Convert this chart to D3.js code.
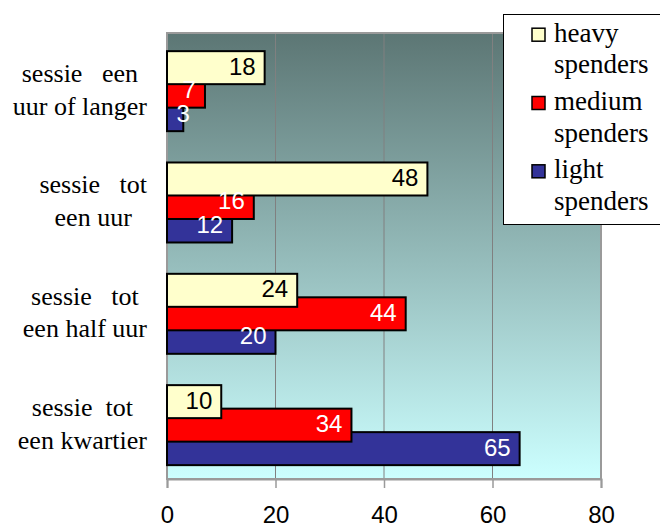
<!DOCTYPE html>
<html><head><meta charset="utf-8">
<script src="https://cdn.jsdelivr.net/npm/d3@7"></script>
</head><body style="margin:0;background:#fff">
<script>
// ---- data ----
const categories = [
  ["sessie   een", "uur of langer"],
  ["sessie   tot", "een uur"],
  ["sessie   tot", "een half uur"],
  ["sessie  tot", "een kwartier"]
];
const seriesNames = [["heavy", "spenders"], ["medium", "spenders"], ["light", "spenders"]];
const heavy  = [18, 48, 24, 10];
const medium = [7, 16, 44, 34];
const light  = [3, 12, 20, 65];
const xTicks = [0, 20, 40, 60, 80];

const colors = ["#FFFFCC", "#FF0000", "#333399"];
const labelColors = ["#000", "#fff", "#fff"];
const series = [heavy, medium, light];
const SERIF = "Liberation Serif", SANS = "Liberation Sans";

const W = 660, H = 526;
const svg = d3.select("body").append("svg").attr("width", W).attr("height", H).style("display", "block");
const defs = svg.append("defs");
const grad = defs.append("linearGradient").attr("id", "bg").attr("x1", 0).attr("y1", 0).attr("x2", 0).attr("y2", 1);
grad.append("stop").attr("offset", "0%").attr("stop-color", "#5C7674");
grad.append("stop").attr("offset", "100%").attr("stop-color", "#CCFFFF");

const x = d3.scaleLinear().domain([0, 80]).range([167, 601]);
const plotTop = 33, plotBottom = 479;
const y = d3.scaleBand().domain(d3.range(categories.length)).range([36, 481.3]).padding(0);

// plot background
svg.append("rect").attr("x", x(0)).attr("y", plotTop).attr("width", x(80) - x(0)).attr("height", plotBottom - plotTop)
  .attr("fill", "url(#bg)");

// gridlines
svg.append("g").selectAll("line").data(xTicks.filter(d => d > 0 && d < 80)).join("line")
  .attr("x1", d => x(d)).attr("x2", d => x(d)).attr("y1", plotTop).attr("y2", plotBottom)
  .attr("stroke", "#808080").attr("stroke-width", 1);

// plot border
svg.append("rect").attr("x", x(0)).attr("y", plotTop).attr("width", x(80) - x(0)).attr("height", plotBottom - plotTop)
  .attr("fill", "none").attr("stroke", "#9a9a9a").attr("stroke-width", 2);

// x axis
const xAxis = d3.axisBottom(x).tickValues(xTicks).tickSize(9).tickPadding(12).tickFormat(d3.format("d"));
const ax = svg.append("g").attr("transform", `translate(0,${plotBottom})`).call(xAxis);
ax.attr("font-family", SANS).attr("font-size", 24);
ax.select(".domain").attr("stroke", "#9a9a9a").attr("stroke-width", 2);
ax.selectAll(".tick line").attr("stroke", "#9a9a9a").attr("stroke-width", 1.5);
ax.selectAll(".tick text").attr("fill", "#000").attr("dy", null).attr("y", 44);

// bars (light first, heavy on top)
const offsets = [-24, -0.5, 23];
const barH = 33;
const order = [2, 1, 0];
order.forEach(si => {
  const g = svg.append("g");
  g.selectAll("rect").data(series[si]).join("rect")
    .attr("x", x(0))
    .attr("y", (d, i) => y(i) + y.bandwidth() / 2 + offsets[si] - barH / 2)
    .attr("width", d => x(d) - x(0))
    .attr("height", barH)
    .attr("fill", colors[si]).attr("stroke", "#000").attr("stroke-width", 2);
});
// value labels
order.forEach(si => {
  const g = svg.append("g");
  g.selectAll("text").data(series[si]).join("text")
    .attr("font-family", SANS).attr("font-size", 24)
    .attr("fill", labelColors[si])
    .attr("y", (d, i) => y(i) + y.bandwidth() / 2 + offsets[si] + 7)
    .text(d => d)
    .each(function(d) {
      const w = this.getComputedTextLength();
      const end = x(d);
      const bw = end - x(0);
      if (w + 12 > bw) {
        d3.select(this).attr("text-anchor", "middle").attr("x", end);
      } else {
        d3.select(this).attr("text-anchor", "end").attr("x", end - 9);
      }
    });
});

// category labels: block right-aligned, lines centered in block
const catG = svg.append("g");
categories.forEach((lines, i) => {
  const cy = y(i) + y.bandwidth() / 2;
  const texts = lines.map((ln, k) => catG.append("text")
    .attr("font-family", SERIF).attr("font-size", 26).attr("xml:space", "preserve")
    .attr("fill", "#000").attr("text-anchor", "middle")
    .attr("y", cy + (k === 0 ? -9.5 : 23))
    .text(ln));
  const maxW = d3.max(texts, t => t.node().getComputedTextLength());
  texts.forEach(t => t.attr("x", 147 - maxW / 2));
});

// legend
const lg = svg.append("g");
lg.append("rect").attr("x", 503.5).attr("y", 14.5).attr("width", 200).attr("height", 210)
  .attr("fill", "#fff").attr("stroke", "#000").attr("stroke-width", 1);
seriesNames.forEach((nm, i) => {
  const base = 41.7 + i * 68.3;
  lg.append("rect").attr("x", 532).attr("y", base - 13.5).attr("width", 13).attr("height", 13)
    .attr("fill", colors[i]).attr("stroke", "#000").attr("stroke-width", 1.5);
  nm.forEach((t, k) => {
    lg.append("text").attr("x", 554).attr("y", base + k * 31.6)
      .attr("font-family", SERIF).attr("font-size", 27)
      .attr("fill", "#000").text(t);
  });
});
</script>
</body></html>
